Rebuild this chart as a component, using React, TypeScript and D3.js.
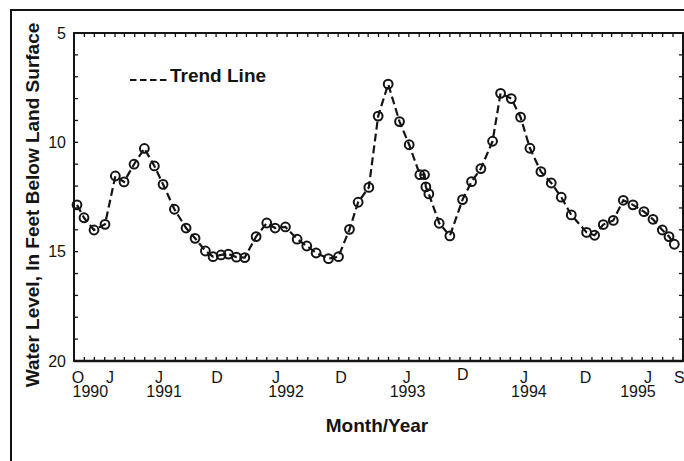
import React from "react";
import * as d3 from "d3";

// Sampling dates and depths to water (feet below land surface)
const sampleDates: string[] = [
  "1990-10-10", "1990-10-31", "1990-11-30", "1991-01-02", "1991-02-02", "1991-02-28",
  "1991-03-30", "1991-04-30", "1991-05-30", "1991-06-25", "1991-07-29", "1991-09-02",
  "1991-09-29", "1991-10-30", "1991-11-22", "1991-12-16", "1992-01-07", "1992-01-31",
  "1992-02-25", "1992-03-30", "1992-05-01", "1992-05-26", "1992-06-26", "1992-07-31",
  "1992-08-29", "1992-09-26", "1992-11-02", "1992-12-02", "1993-01-04", "1993-01-30",
  "1993-03-03", "1993-03-31", "1993-04-30", "1993-06-03", "1993-07-02", "1993-08-03",
  "1993-08-17", "1993-08-21", "1993-08-30", "1993-09-30", "1993-11-01", "1993-12-09",
  "1994-01-05", "1994-02-02", "1994-03-09", "1994-04-02", "1994-05-04", "1994-06-01",
  "1994-06-29", "1994-08-01", "1994-09-01", "1994-10-01", "1994-10-31", "1994-12-16",
  "1995-01-09", "1995-02-04", "1995-03-06", "1995-04-05", "1995-05-04", "1995-06-06",
  "1995-07-03", "1995-07-31", "1995-08-20", "1995-09-05",
];

const waterLevels: number[] = [
  12.86, 13.45, 14.01, 13.75, 11.54, 11.81,
  11.0, 10.28, 11.08, 11.92, 13.06, 13.92,
  14.39, 14.97, 15.23, 15.15, 15.11, 15.25,
  15.27, 14.31, 13.69, 13.92, 13.87, 14.43,
  14.74, 15.06, 15.32, 15.23, 13.98, 12.74,
  12.06, 8.8, 7.34, 9.05, 10.11, 11.48,
  11.48, 12.04, 12.36, 13.7, 14.28, 12.62,
  11.8, 11.2, 9.95, 7.76, 8.0, 8.85,
  10.27, 11.34, 11.86, 12.51, 13.32, 14.12,
  14.25, 13.76, 13.57, 12.65, 12.86, 13.17,
  13.52, 14.01, 14.31, 14.66,
];

// Axis labels
const yTickValues: number[] = [5, 10, 15, 20];
const monthLabels: string[] = ["O", "J", "J", "D", "J", "D", "J", "D", "J", "D", "J", "S"];
const monthLabelDates: string[] = [
  "1990-10-13", "1991-01-17", "1991-06-13", "1991-12-04", "1992-05-29", "1992-12-10",
  "1993-06-25", "1993-12-10", "1994-06-11", "1994-12-13", "1995-06-18", "1995-09-20",
];
const monthLabelRaised: boolean[] = [
  false, false, false, false, false, false, false, true, false, false, false, false,
];
const yearLabels: string[] = ["1990", "1991", "1992", "1993", "1994", "1995"];
const yearLabelDates: string[] = [
  "1990-11-19", "1991-06-28", "1992-06-28", "1993-06-27", "1994-06-26", "1995-05-19",
];

const parse = d3.timeParse("%Y-%m-%d");
const ink = "#141414";
const sans = "'Liberation Sans', Arial, Helvetica, sans-serif";

export default function App() {
  const width = 684;
  const height = 461;
  const left = 74;
  const right = 683;
  const top = 33;
  const bottom = 361;

  const start = new Date(1990, 9, 1);
  const end = new Date(1995, 9, 1);
  const x = d3.scaleTime().domain([start, end]).range([left, right]);
  const y = d3.scaleLinear().domain([5, 20]).range([top, bottom]);

  const points = sampleDates.map((d, i) => ({ date: parse(d) as Date, value: waterLevels[i] }));
  const line = d3
    .line<{ date: Date; value: number }>()
    .x((d) => x(d.date))
    .y((d) => y(d.value));

  const monthTicks = d3.timeMonth.range(start, new Date(1995, 9, 2));
  const footTicks = d3.range(5, 21);

  return (
    <svg
      width={width}
      height={height}
      style={{ position: "absolute", left: 0, top: 0, background: "#fff" }}
    >
      {/* outer frame */}
      <rect x={11} y={10} width={720} height={500} fill="none" stroke={ink} strokeWidth={2} />

      {/* plot box */}
      <rect
        x={left}
        y={top}
        width={right - left}
        height={bottom - top}
        fill="none"
        stroke={ink}
        strokeWidth={2}
      />
      <line x1={left} x2={right} y1={bottom} y2={bottom} stroke={ink} strokeWidth={2.6} />

      {/* monthly ticks, top and bottom */}
      {monthTicks.map((t, i) => (
        <g key={"m" + i}>
          <line x1={x(t)} x2={x(t)} y1={top} y2={top + 4} stroke={ink} strokeWidth={1.3} />
          <line x1={x(t)} x2={x(t)} y1={bottom} y2={bottom - 4} stroke={ink} strokeWidth={1.3} />
        </g>
      ))}

      {/* one-foot ticks, left and right */}
      {footTicks.map((v) => (
        <g key={"f" + v}>
          <line x1={left} x2={left + 4} y1={y(v)} y2={y(v)} stroke={ink} strokeWidth={1.3} />
          <line x1={right} x2={right - 4} y1={y(v)} y2={y(v)} stroke={ink} strokeWidth={1.3} />
        </g>
      ))}

      {/* y tick labels */}
      {yTickValues.map((v) => (
        <text
          key={"yl" + v}
          x={left - 8}
          y={y(v)}
          dy="0.36em"
          textAnchor="end"
          fontFamily={sans}
          fontSize={16}
          fill={ink}
        >
          {v}
        </text>
      ))}

      {/* month letters */}
      {monthLabels.map((m, i) => (
        <text
          key={"ml" + i}
          x={x(parse(monthLabelDates[i]) as Date)}
          y={monthLabelRaised[i] ? 380 : 383}
          textAnchor="middle"
          fontFamily={sans}
          fontSize={16}
          fill={ink}
        >
          {m}
        </text>
      ))}

      {/* years */}
      {yearLabels.map((yr, i) => (
        <text
          key={"yr" + i}
          x={x(parse(yearLabelDates[i]) as Date)}
          y={397}
          textAnchor="middle"
          fontFamily={sans}
          fontSize={16}
          fill={ink}
        >
          {yr}
        </text>
      ))}

      {/* axis titles */}
      <text
        x={377}
        y={432}
        textAnchor="middle"
        fontFamily={sans}
        fontWeight="bold"
        fontSize={19}
        fill={ink}
      >
        Month/Year
      </text>
      <text
        transform="translate(38.5,205) rotate(-90)"
        textAnchor="middle"
        fontFamily={sans}
        fontWeight="bold"
        fontSize={19}
        fill={ink}
      >
        Water Level, In Feet Below Land Surface
      </text>

      {/* legend */}
      <line x1={130} x2={167} y1={80} y2={80} stroke={ink} strokeWidth={2} strokeDasharray="6.5,3.5" />
      <text x={170} y={82.3} fontFamily={sans} fontWeight="bold" fontSize={19} fill={ink}>
        Trend Line
      </text>

      {/* trend line and samples */}
      <path
        d={line(points) || ""}
        fill="none"
        stroke={ink}
        strokeWidth={2.2}
        strokeDasharray="8,4"
      />
      {points.map((p, i) => (
        <circle
          key={"p" + i}
          cx={x(p.date)}
          cy={y(p.value)}
          r={4.4}
          fill="none"
          stroke={ink}
          strokeWidth={2}
        />
      ))}
    </svg>
  );
}
